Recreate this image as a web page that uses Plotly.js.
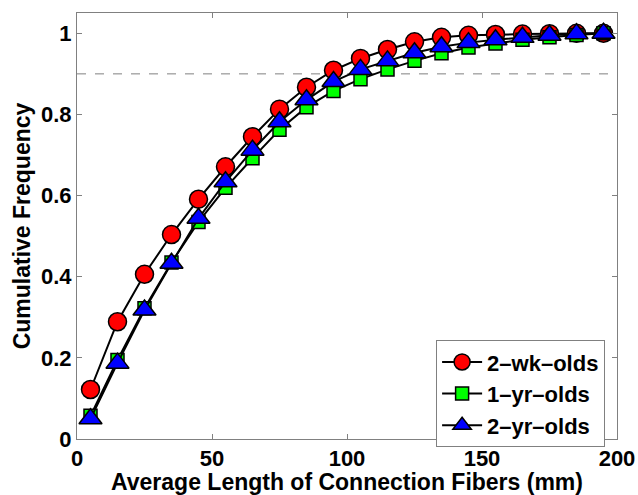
<!DOCTYPE html>
<html><head><meta charset="utf-8">
<script src="https://cdn.plot.ly/plotly-3.0.1.min.js"></script>
<style>body{margin:0;background:#fff}#chart{width:638px;height:495px}</style>
</head><body><div id="chart"></div>
<script>
const lengths = [5,15,25,35,45,55,65,75,85,95,105,115,125,135,145,155,165,175,185,195];
const wk2 = [0.122,0.289,0.406,0.504,0.591,0.671,0.745,0.813,0.867,0.909,0.938,0.960,0.979,0.990,0.995,0.997,0.998,0.999,1.0,1.0];
const yr1 = [0.057,0.195,0.322,0.435,0.535,0.619,0.692,0.762,0.818,0.858,0.887,0.911,0.932,0.951,0.965,0.975,0.984,0.990,0.996,1.0];
const yr2 = [0.050,0.187,0.318,0.433,0.544,0.634,0.712,0.782,0.836,0.881,0.911,0.932,0.952,0.967,0.977,0.984,0.990,0.995,0.999,1.0];
const names = ['2\u2013wk\u2013olds','1\u2013yr\u2013olds','2\u2013yr\u2013olds'];
const thresholdLevel = 0.9;

const FAM = 'Liberation Sans, Arial, sans-serif';
const tickFnt = {family:FAM, size:22, color:'#000', weight:'bold'};
const titleFnt = {family:FAM, size:23, color:'#000', weight:'bold'};
function tr(y, name, sym, col, size){
  return {x:lengths, y:y, name:name, type:'scatter', mode:'lines+markers',
    line:{color:'#000', width:2},
    marker:{symbol:sym, color:col, size:size, line:{color:'#000', width:1.5}}};
}
const data = [
  tr(wk2, names[0], 'circle', '#ff0000', 18),
  tr(yr1, names[1], 'square', '#00ff00', 13),
  tr(yr2, names[2], 'triangle-up', '#0000ff', 20)
];
const axisCommon = {showgrid:false, zeroline:false, showline:true, mirror:'ticks', linecolor:'#808080', linewidth:1,
  ticks:'inside', ticklen:5, tickcolor:'#808080', tickfont:tickFnt};
const layout = {
  width:638, height:495, paper_bgcolor:'#fff', plot_bgcolor:'#fff',
  margin:{l:77, r:21, t:13, b:56},
  showlegend:true,
  legend:{x:0.665, y:0.232, xanchor:'left', yanchor:'top', bgcolor:'#fff', bordercolor:'#808080', borderwidth:1,
    font:{family:FAM, size:22, color:'#000', weight:'bold'}, tracegroupgap:0, itemwidth:40},
  xaxis:Object.assign({}, axisCommon, {range:[0,200], tickvals:[0,50,100,150,200],
    title:{text:'Average Length of Connection Fibers (mm)', font:titleFnt, standoff:2}}),
  yaxis:Object.assign({}, axisCommon, {range:[0,1.05], tickvals:[0,0.2,0.4,0.6,0.8,1], ticktext:['0','0.2','0.4','0.6','0.8','1'],
    title:{text:'Cumulative Frequency', font:titleFnt, standoff:3}}),
  shapes:[{type:'line', xref:'paper', x0:0, x1:1, yref:'y', y0:thresholdLevel, y1:thresholdLevel,
    line:{color:'#808080', width:1, dash:'dash'}, layer:'below'}]
};
Plotly.newPlot('chart', data, layout, {displayModeBar:false, staticPlot:true});
</script></body></html>
